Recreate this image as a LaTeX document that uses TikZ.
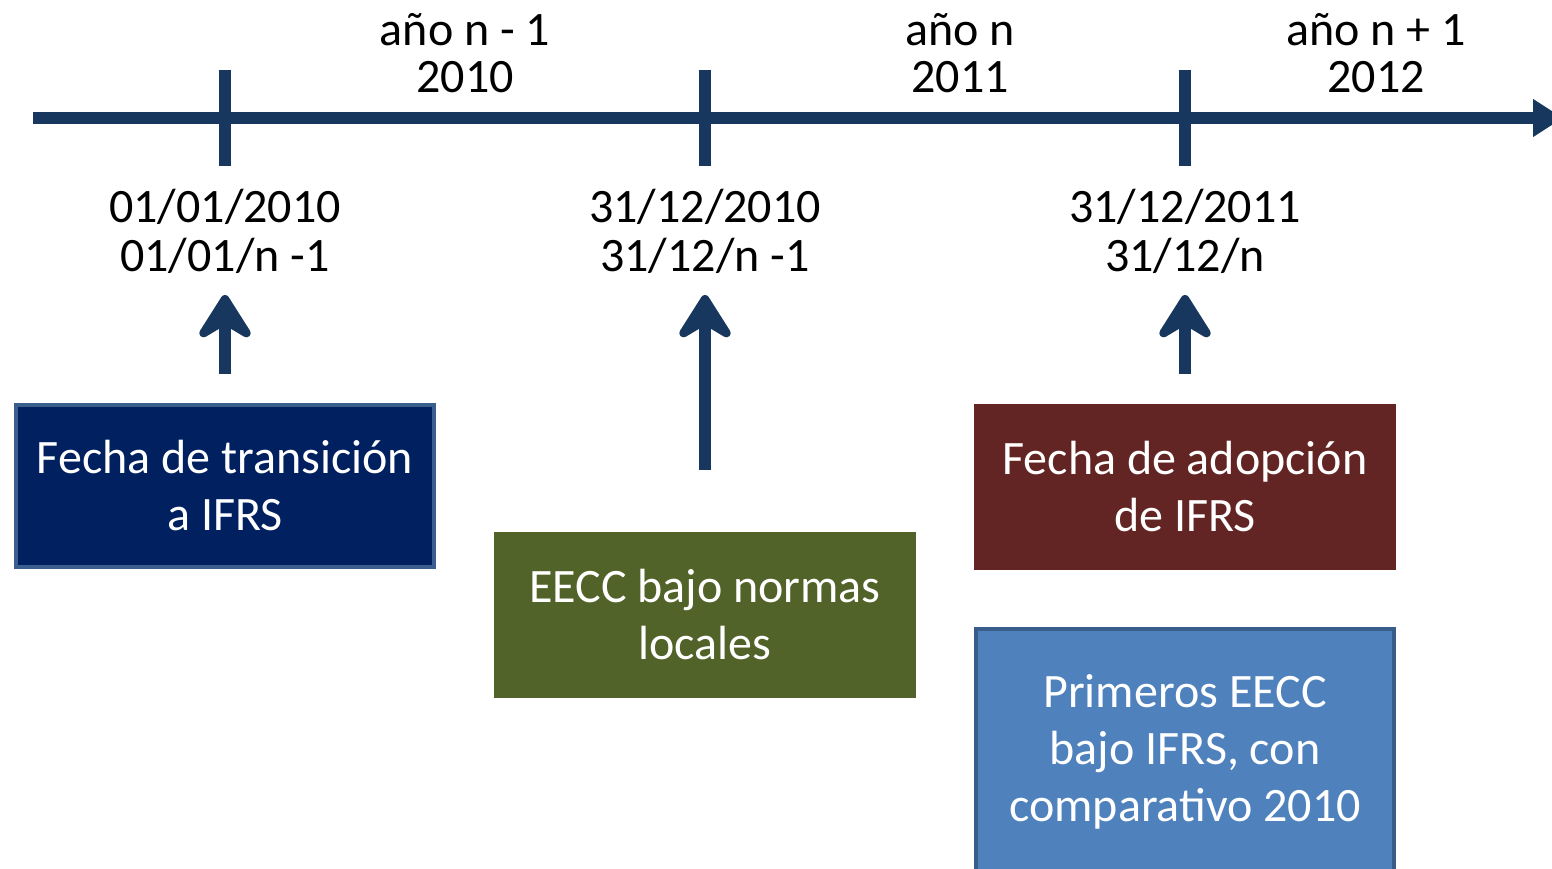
\documentclass[tikz,border=0pt]{standalone}
\usepackage{fontspec}
\setmainfont{Carlito}
\usetikzlibrary{arrows.meta}
\definecolor{linecol}{HTML}{17375E}
\definecolor{navyfill}{HTML}{002060}
\definecolor{navyedge}{HTML}{3A5F8F}
\definecolor{olivefill}{HTML}{526329}
\definecolor{wine}{HTML}{632523}
\definecolor{skyfill}{HTML}{4F81BD}
\definecolor{skyedge}{HTML}{385D8A}
\begin{document}
\begin{tikzpicture}[x=0.5pt, y=-0.5pt,
	every node/.style={font=\fontsize{24}{24}\selectfont},
	yearlbl/.style={align=center, font=\fontsize{24}{23.5}\selectfont},
	datelbl/.style={align=center, font=\fontsize{24}{24.5}\selectfont},
	infobox/.style={align=center, text=white, minimum width=209pt, minimum height=81pt, inner sep=0pt, line width=2pt, font=\fontsize{24}{28.5}\selectfont},
	axis/.style={linecol, line width=5.8pt},
	uparrow/.style={linecol, line width=5.8pt, -{Stealth[length=27pt, width=34pt, inset=10pt, round]}}]
	\useasboundingbox (0,0) rectangle (1552,868);
	% time line
	\coordinate (start) at (33,118);
	\coordinate (stop) at (1563,118);
	\draw [axis, -{Triangle[length=15pt, width=18pt]}] (start) -- (stop);
	\foreach \x/\n in {225/1, 705/2, 1185/3} {
		\coordinate (tt\n) at (\x,70);
		\coordinate (tb\n) at (\x,166);
		\draw [axis] (tt\n) -- (tb\n);
	}
	\node [yearlbl] (y1) at (465,53) {año n - 1\\2010};
	\node [yearlbl] (y2) at (960,53) {año n\\2011};
	\node [yearlbl] (y3) at (1376,53) {año n + 1\\2012};
	\node [datelbl] (d1) at (225,231) {01/01/2010\\01/01/n -1};
	\node [datelbl] (d2) at (705,231) {31/12/2010\\31/12/n -1};
	\node [datelbl] (d3) at (1185,231) {31/12/2011\\31/12/n};
	% arrows up to the dates
	\coordinate (a1) at (225,374);
	\coordinate (b1) at (225,295);
	\coordinate (a2) at (705,470);
	\coordinate (b2) at (705,295);
	\coordinate (a3) at (1185,374);
	\coordinate (b3) at (1185,295);
	\draw [uparrow] (a1) -- (b1);
	\draw [uparrow] (a2) -- (b2);
	\draw [uparrow] (a3) -- (b3);
	% boxes
	\node [infobox, fill=navyfill, draw=navyedge] (trans) at (225,486) {Fecha de transición\\a IFRS};
	\node [infobox, fill=olivefill, draw=olivefill] (local) at (705,614.5) {EECC bajo normas\\locales};
	\node [infobox, fill=wine, draw=wine] (adopt) at (1185,486.5) {Fecha de adopción\\de IFRS};
	\node [infobox, fill=skyfill, draw=skyedge, minimum height=123pt] (first) at (1185,752) {Primeros EECC\\bajo IFRS, con\\comparativo 2010};
\end{tikzpicture}
\end{document}
